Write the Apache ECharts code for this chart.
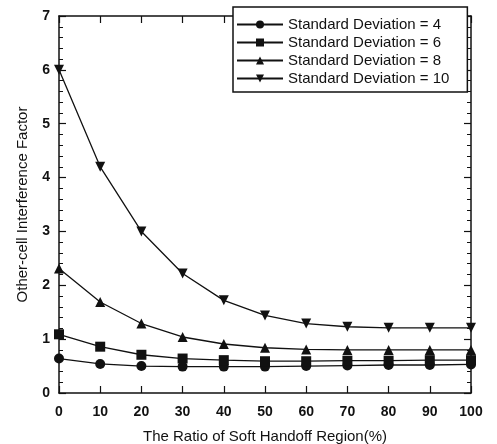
<!DOCTYPE html>
<html>
<head>
<meta charset="utf-8">
<script src="https://cdn.jsdelivr.net/npm/echarts@6/dist/echarts.min.js"></script>
<style>
  html, body { margin: 0; padding: 0; background: #fff; }
  #chart { width: 497px; height: 444px; }
</style>
</head>
<body>
<div id="chart"></div>
<script>
// soft handoff ratio (%)
const ratios = [0, 10, 20, 30, 40, 50, 60, 70, 80, 90, 100];

const sd4 = [0.64, 0.54, 0.50, 0.49, 0.49, 0.49, 0.50, 0.51, 0.52, 0.52, 0.53];
const sd6 = [1.09, 0.86, 0.71, 0.64, 0.61, 0.59, 0.59, 0.60, 0.60, 0.61, 0.61];
const sd8 = [2.31, 1.69, 1.29, 1.04, 0.91, 0.84, 0.81, 0.80, 0.80, 0.80, 0.80];
const sd10 = [6.0, 4.2, 3.0, 2.22, 1.72, 1.44, 1.29, 1.23, 1.21, 1.21, 1.21];

const seriesNames = [
    'Standard Deviation = 4',
    'Standard Deviation = 6',
    'Standard Deviation = 8',
    'Standard Deviation = 10'
];

const FONT = '"Liberation Sans", Arial, sans-serif';
const INK = '#111';

const pair = (ys) => ratios.map((x, i) => [x, ys[i]]);

const makeSeries = (name, ys, symbol) => ({
    name,
    type: 'line',
    data: pair(ys),
    symbol,
    symbolSize: 10,
    showAllSymbol: true,
    lineStyle: {color: INK, width: 1.3},
    itemStyle: {color: INK},
    emphasis: {disabled: true},
    z: 3
});

const axisBase = {
    axisLine: {show: true, onZero: false, lineStyle: {color: INK, width: 1.5}},
    axisTick: {show: true, inside: true, length: 7, lineStyle: {color: INK, width: 1.2}},
    splitLine: {show: false}
};

const chart = echarts.init(document.getElementById('chart'));

chart.setOption({
    animation: false,
    backgroundColor: '#fff',
    grid: {left: 59, right: 26, top: 16, bottom: 51, outerBoundsMode: 'none', containLabel: false},
    legend: {
        data: seriesNames,
        orient: 'vertical',
        left: 233,
        top: 7,
        itemWidth: 46,
        itemHeight: 10,
        itemGap: 3,
        padding: [10, 18, 6, 3],
        borderColor: INK,
        borderWidth: 1.5,
        backgroundColor: '#fff',
        textStyle: {fontFamily: FONT, fontSize: 15, color: INK},
        z: 10
    },
    xAxis: [
        Object.assign({}, axisBase, {
            type: 'value',
            min: 0,
            max: 100,
            interval: 10,
            position: 'bottom',
            name: 'The Ratio of Soft Handoff Region(%)',
            nameLocation: 'middle',
            nameGap: 36,
            nameTextStyle: {fontFamily: FONT, fontSize: 15, color: INK},
            axisLabel: {fontFamily: FONT, fontSize: 14, fontWeight: 'bold', color: INK, margin: 12}
        }),
        Object.assign({}, axisBase, {
            type: 'value',
            min: 0,
            max: 100,
            interval: 10,
            position: 'top',
            axisLabel: {show: false}
        })
    ],
    yAxis: [
        Object.assign({}, axisBase, {
            type: 'value',
            min: 0,
            max: 7,
            interval: 1,
            position: 'left',
            name: 'Other-cell Interference Factor',
            nameLocation: 'middle',
            nameGap: 29,
            nameTextStyle: {fontFamily: FONT, fontSize: 15, color: INK},
            minorTick: {show: true, splitNumber: 5, length: 4, lineStyle: {color: INK, width: 1}},
            axisLabel: {fontFamily: FONT, fontSize: 14, fontWeight: 'bold', color: INK, margin: 9}
        }),
        Object.assign({}, axisBase, {
            type: 'value',
            min: 0,
            max: 7,
            interval: 1,
            position: 'right',
            minorTick: {show: true, splitNumber: 5, length: 4, lineStyle: {color: INK, width: 1}},
            axisLabel: {show: false}
        })
    ],
    series: [
        makeSeries(seriesNames[0], sd4, 'circle'),
        makeSeries(seriesNames[1], sd6, 'rect'),
        makeSeries(seriesNames[2], sd8, 'triangle'),
        makeSeries(seriesNames[3], sd10, 'path://M0,0 L10,0 L5,9 Z')
    ]
});
</script>
</body>
</html>
